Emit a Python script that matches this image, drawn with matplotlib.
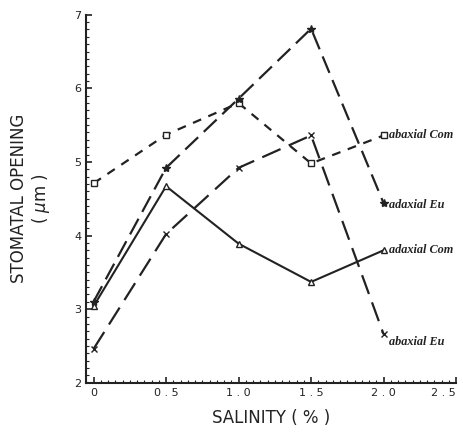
import numpy as np
import matplotlib.pyplot as plt
from matplotlib.ticker import MultipleLocator

# salinity levels (%) and stomatal opening (um)
salinity = [0.0, 0.5, 1.0, 1.5, 2.0]
abaxial_com = [4.71, 5.37, 5.80, 4.98, 5.36]
adaxial_eu = [3.10, 4.92, 5.86, 6.81, 4.44]
adaxial_com = [3.04, 4.67, 3.89, 3.37, 3.80]
abaxial_eu = [2.46, 4.02, 4.92, 5.36, 2.66]

labels = ['abaxial Com', 'adaxial Eu', 'adaxial Com', 'abaxial Eu']

fig = plt.figure(figsize=(4.64, 4.33), dpi=100)
ax = fig.add_axes([0.186, 0.116, 0.797, 0.85])

ax.plot(salinity, abaxial_com, color='#222', lw=1.6, dashes=(4, 3.5),
        marker='s', ms=5, mfc='white', mec='#222', mew=1.0)
ax.plot(salinity, adaxial_eu, color='#222', lw=1.6, dashes=(8, 3.5),
        marker='*', ms=6, mfc='#222', mec='#222')
ax.plot(salinity, adaxial_com, color='#222', lw=1.5, ls='-',
        marker='^', ms=5, mfc='white', mec='#222', mew=1.0)
ax.plot(salinity, abaxial_eu, color='#222', lw=1.6, dashes=(9, 4),
        marker='x', ms=5, mec='#222', mew=1.0)

# end-of-line labels
ends = [abaxial_com[-1], adaxial_eu[-1], adaxial_com[-1], abaxial_eu[-1]]
offs = [0.0, -0.03, 0.0, -0.1]
for lab, y, o in zip(labels, ends, offs):
    ax.text(2.035, y + o, lab, fontsize=8.8, family='Liberation Serif',
            style='italic', fontweight='bold', color='#222',
            va='center', ha='left', clip_on=False)

ax.set_xlim(-0.05, 2.5)
ax.set_ylim(2, 7)
ax.xaxis.set_minor_locator(MultipleLocator(0.05))
ax.yaxis.set_major_locator(MultipleLocator(1))
ax.yaxis.set_minor_locator(MultipleLocator(0.1))
ax.set_xticks([0, 0.5, 1.0, 1.5, 2.0, 2.5])
ax.set_xticklabels(['0', '0 . 5', '1 . 0', '1 . 5', '2 . 0', '2 . 5'])
ax.tick_params(which='both', direction='in', colors='#222', labelsize=8)
ax.tick_params(which='major', length=4, width=1.2)
ax.tick_params(which='minor', length=2, width=0.8)
# keep the last x label inside the figure
ax.get_xticklabels()[-1].set_horizontalalignment('right')

for s in ['top', 'right']:
    ax.spines[s].set_visible(False)
for s in ['left', 'bottom']:
    ax.spines[s].set_linewidth(1.5)
    ax.spines[s].set_color('#222')

ax.set_xlabel('SALINITY ( % )', fontsize=12, color='#222', labelpad=8)
ax.set_ylabel('STOMATAL OPENING\n( $\\mu$m )', fontsize=12, color='#222',
              labelpad=16, linespacing=1.1)

fig.savefig('out.png', dpi=100)
